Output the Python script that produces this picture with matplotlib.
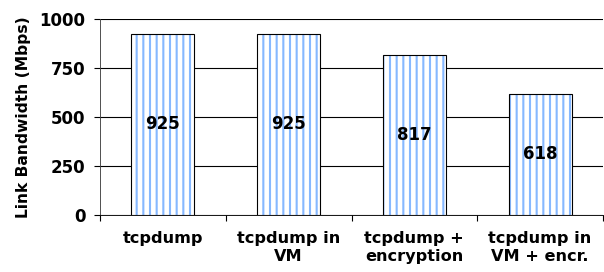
import matplotlib
matplotlib.use('Agg')
import matplotlib.pyplot as plt

# Data
categories = ['tcpdump', 'tcpdump in\nVM', 'tcpdump +\nencryption', 'tcpdump in\nVM + encr.']
bandwidth = [925, 925, 817, 618]
yticks = [0, 250, 500, 750, 1000]

DPI = 80
plt.rcParams['font.family'] = 'DejaVu Sans'
plt.rcParams['font.weight'] = 'bold'
plt.rcParams['hatch.linewidth'] = 1.9

fig = plt.figure(figsize=(604 / DPI, 272 / DPI), dpi=DPI)
ax = fig.add_axes([100 / 604, 1 - 215 / 272, 503 / 604, (215 - 19) / 272])

x = range(len(categories))
# stripes first (hatch takes the edge colour), then the black outline on top
ax.bar(x, bandwidth, width=0.5, color='white', edgecolor='#86b8ff',
       linewidth=0, hatch='||', zorder=3)
bars = ax.bar(x, bandwidth, width=0.5, fill=False, edgecolor='black',
              linewidth=1.0, zorder=4)

for b, v in zip(bars, bandwidth):
    ax.text(b.get_x() + b.get_width() / 2, v / 2, str(v), ha='center', va='center',
            fontsize=15, fontweight='bold', zorder=5)

ax.set_xlim(-0.5, len(categories) - 0.5)
ax.set_ylim(0, 1000)
ax.set_yticks(yticks)
ax.set_yticklabels([str(t) for t in yticks], fontsize=15, fontweight='bold')
ax.set_xticks(list(x))
ax.set_xticklabels(categories, fontsize=14.5, fontweight='bold', linespacing=1.3)
ax.set_xticks([i - 0.5 for i in range(len(categories) + 1)], minor=True)
ax.tick_params(axis='x', which='major', length=0, pad=14)
ax.tick_params(axis='x', which='minor', length=5, direction='out', width=1)
ax.tick_params(axis='y', length=5, direction='out', width=1, pad=8)

ax.yaxis.grid(True, color='black', linewidth=1.0, zorder=0)
ax.set_axisbelow(True)
for side in ['top', 'right']:
    ax.spines[side].set_visible(False)
ax.spines['left'].set_color('#404040')
ax.spines['bottom'].set_color('black')

ax.set_ylabel('Link Bandwidth (Mbps)', fontsize=14, fontweight='bold', labelpad=8)

fig.savefig('out.png', dpi=DPI)
